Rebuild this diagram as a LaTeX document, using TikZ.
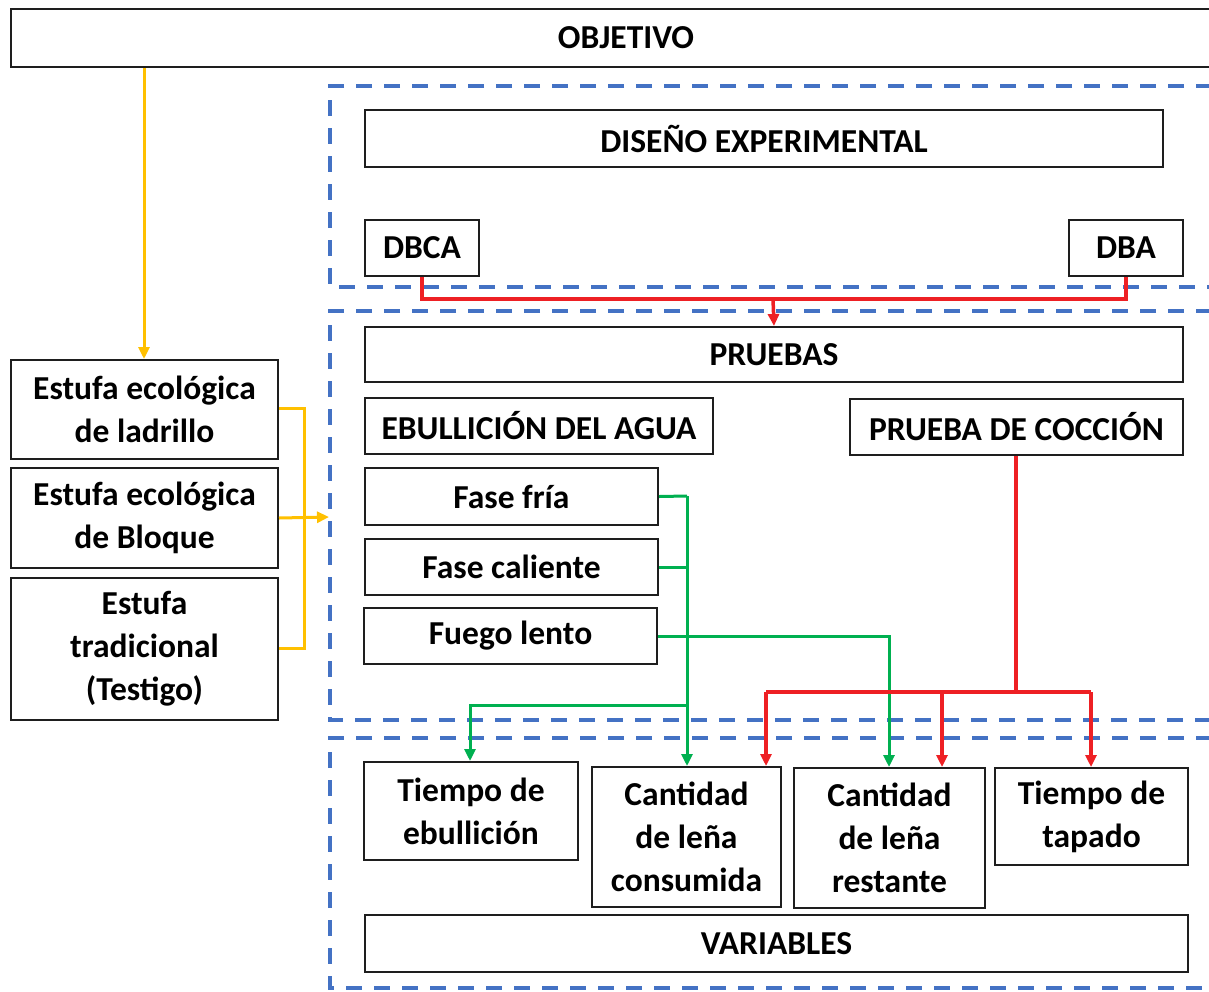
\documentclass[tikz,border=0pt]{standalone}
\usepackage{fontspec}
\setmainfont{Carlito}
\usetikzlibrary{arrows.meta}
\definecolor{dashblue}{RGB}{68,114,196}
\definecolor{linkred}{RGB}{238,32,36}
\definecolor{linkgreen}{RGB}{0,176,80}
\definecolor{linkorange}{RGB}{255,192,0}
\definecolor{edge}{RGB}{30,30,30}

\begin{document}
\begin{tikzpicture}[x=1pt,y=-1pt,
  box/.style={draw=edge, line width=2pt, fill=white, inner sep=0pt,
    anchor=north west, align=center,
    font=\fontsize{33.5}{43}\selectfont\bfseries},
  wh/.style 2 args={minimum width=#1pt, minimum height=#2pt},
  frame/.style={draw=dashblue, line width=3.5pt, dash pattern=on 16pt off 12pt},
  tip/.style={-{Triangle[length=12pt,width=11pt]}},
  red/.style={draw=linkred, line width=3.5pt},
  green/.style={draw=linkgreen, line width=3pt},
  orange/.style={draw=linkorange, line width=3pt}
]
\clip (0,0) rectangle (1209,991);

% dashed group frames (open to the right edge)
\draw[frame] (1240,86) -- (330,86) -- (330,287) -- (1240,287);
\draw[frame] (1240,311) -- (330,311) -- (330,720) -- (1240,720);
\draw[frame] (1240,738) -- (330,738) -- (330,988) -- (1240,988);

% top bar
\node[box, wh={1230}{58}] (obj) at (10,8) {OBJETIVO};

% stoves
\node[box, wh={267}{99}]  (lad) at (10,359) {Estufa ecológica\\de ladrillo};
\node[box, wh={267}{100}] (blo) at (10,467) {Estufa ecológica\\de Bloque};
\node[box, wh={267}{142}] (tra) at (10,577) {Estufa\\tradicional\\(Testigo)};

% experimental design
\node[box, wh={798}{57}] (dis) at (364,109) {DISEÑO EXPERIMENTAL};
\node[box, wh={114}{56}] (dbca) at (364,219) {DBCA};
\node[box, wh={114}{56}] (dba) at (1068,219) {DBA};

% tests
\node[box, wh={818}{55}] (pru) at (364,326) {PRUEBAS};
\node[box, wh={348}{56}] (ebu) at (364,397) {EBULLICIÓN DEL AGUA};
\node[box, wh={333}{56}] (coc) at (849,398) {PRUEBA DE COCCIÓN};
\node[box, wh={293}{57}] (fria) at (364,467) {Fase fría};
\node[box, wh={293}{56}] (cal) at (364,538) {Fase caliente};
\node[box, wh={293}{56}] (len) at (363,607) {Fuego lento};

% variables
\node[box, wh={214}{98}]  (tebu) at (363,761) {Tiempo de\\ebullición};
\node[box, wh={189}{140}] (cons) at (591,766) {Cantidad\\de leña\\consumida};
\node[box, wh={191}{140}] (rest) at (793,767) {Cantidad\\de leña\\restante};
\node[box, wh={193}{97}]  (ttap) at (994,767) {Tiempo de\\tapado};
\node[box, wh={823}{57}]  (var) at (364,914) {VARIABLES};

% junction points
\coordinate (oy) at (144,66);
\coordinate (obus) at (304,408);
\coordinate (rtop) at (773,299);
\coordinate (gbus) at (687,496);
\coordinate (gsplit) at (687,705);
\coordinate (rbus) at (1016,692);
\coordinate (rl) at (766,692);
\coordinate (rm) at (942,692);
\coordinate (rr) at (1091,692);
\coordinate (frameedge) at (329,517);

% objective to stoves
\draw[orange, tip] (obj.south -| oy) -- (lad.north -| oy);
\draw[orange] (lad.east |- obus) -- (obus) |- (tra.east |- 0,648) ;
\draw[orange, tip] (blo.east) -- (frameedge);

% designs to tests
\draw[red] (dbca.south) |- (rtop) -| (dba.south);
\draw[red, tip] (rtop) -- (pru.north);

% boiling phases to variables
\draw[green] (fria.east) -- (gbus);
\draw[green] (cal.east) -- (gbus |- cal.east);
\draw[green, tip] (gbus) -- (cons.north -| gbus);
\draw[green, tip] (gsplit) -| (tebu.north -| 470,0);
\draw[green, tip] (len.east) -| (rest.north -| 889,0);

% cooking test to variables
\draw[red] (coc.south -| rbus) -- (rbus);
\draw[red] (rl) -- (rr);
\draw[red, tip] (rl) -- (cons.north -| rl);
\draw[red, tip] (rm) -- (rest.north -| rm);
\draw[red, tip] (rr) -- (ttap.north -| rr);
\end{tikzpicture}
\end{document}
